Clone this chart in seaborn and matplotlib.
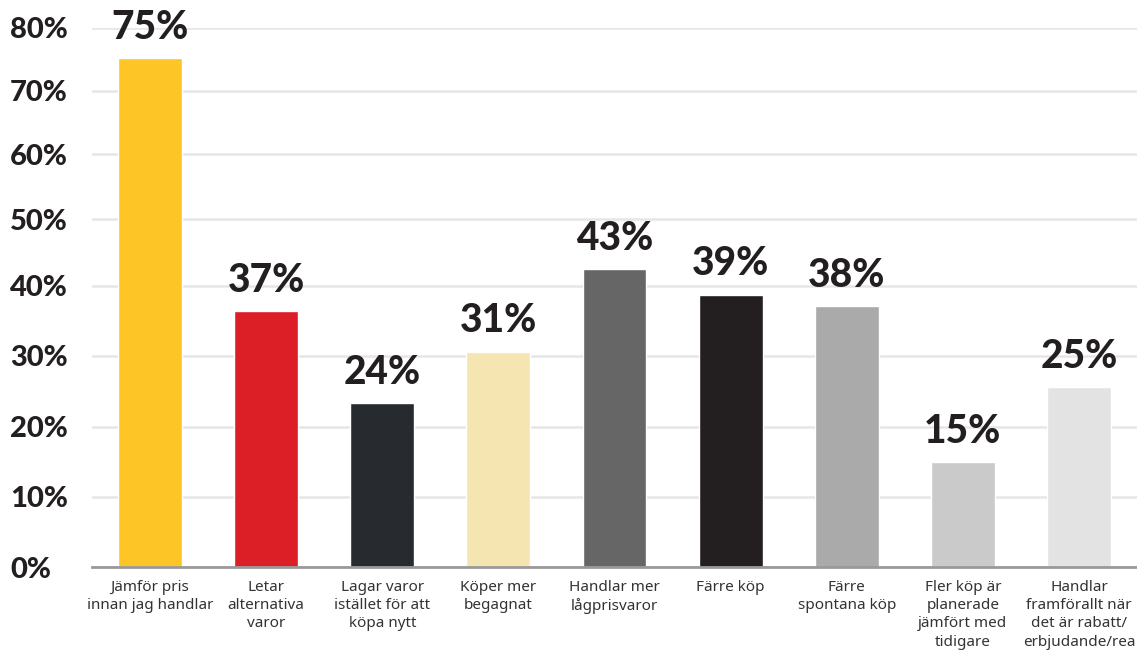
import matplotlib
matplotlib.use("Agg")
import matplotlib.pyplot as plt
import seaborn as sns
import pandas as pd
import numpy as np

categories = [
    "Jämför pris\ninnan jag handlar",
    "Letar\nalternativa\nvaror",
    "Lagar varor\nistället för att\nköpa nytt",
    "Köper mer\nbegagnat",
    "Handlar mer\nlågprisvaror",
    "Färre köp",
    "Färre\nspontana köp",
    "Fler köp är\nplanerade\njämfört med\ntidigare",
    "Handlar\nframförallt när\ndet är rabatt/\nerbjudande/rea",
]
values = [75.2, 36.4, 23.3, 30.6, 42.5, 38.7, 37.1, 14.9, 25.6]
value_labels = ["75%", "37%", "24%", "31%", "43%", "39%", "38%", "15%", "25%"]
colors = ["#FDC626", "#DC1E26", "#272B2F", "#F5E6B1", "#666666",
          "#231F20", "#AAAAAA", "#CACACA", "#E3E3E3"]
yticks = [0, 10, 20, 30, 40, 50, 60, 70, 80]
ytick_labels = ["0%", "10%", "20%", "30%", "40%", "50%", "60%", "70%", "80%"]

# scale calibration of the original chart's value axis (grid spacing is uneven)
axis_stops = np.array([0.0, 70.6, 140.6, 211.3, 281.6, 348.0, 413.0, 476.6, 539.3])
tick_arr = np.array(yticks, dtype=float)


def fwd(v):
    v = np.asarray(v, dtype=float)
    out = np.interp(v, tick_arr, axis_stops)
    lo = v < tick_arr[0]
    hi = v > tick_arr[-1]
    s0 = (axis_stops[1] - axis_stops[0]) / (tick_arr[1] - tick_arr[0])
    s1 = (axis_stops[-1] - axis_stops[-2]) / (tick_arr[-1] - tick_arr[-2])
    out = np.where(lo, axis_stops[0] + (v - tick_arr[0]) * s0, out)
    out = np.where(hi, axis_stops[-1] + (v - tick_arr[-1]) * s1, out)
    return out


def inv(p):
    p = np.asarray(p, dtype=float)
    out = np.interp(p, axis_stops, tick_arr)
    lo = p < axis_stops[0]
    hi = p > axis_stops[-1]
    s0 = (tick_arr[1] - tick_arr[0]) / (axis_stops[1] - axis_stops[0])
    s1 = (tick_arr[-1] - tick_arr[-2]) / (axis_stops[-1] - axis_stops[-2])
    out = np.where(lo, tick_arr[0] + (p - axis_stops[0]) * s0, out)
    out = np.where(hi, tick_arr[-1] + (p - axis_stops[-1]) * s1, out)
    return out


sns.set_style("white")
plt.rcParams["font.family"] = ["Noto Sans", "DejaVu Sans"]

W, H = 1137, 653
fig = plt.figure(figsize=(W / 100, H / 100), dpi=100)
left, right, bottom, top = 92, 1137, 567.3, 28
ax = fig.add_axes([left / W, 1 - bottom / H, (right - left) / W, (bottom - top) / H])

df = pd.DataFrame({"cat": categories, "val": values})
sns.barplot(data=df, x="cat", y="val", hue="cat", palette=colors,
            legend=False, width=0.55, saturation=1, ax=ax, zorder=3)

ax.set_yscale("function", functions=(fwd, inv))
ax.set_xlim(-0.5, len(categories) - 0.5)
ax.set_ylim(0, 80)
ax.set_xlabel("")
ax.set_ylabel("")

for s in ["top", "right", "left"]:
    ax.spines[s].set_visible(False)
ax.spines["bottom"].set_color("#999999")
ax.spines["bottom"].set_linewidth(2)
ax.spines["bottom"].set_zorder(4)

ax.set_yticks(yticks)
ax.set_yticklabels(ytick_labels)
ax.yaxis.set_minor_locator(matplotlib.ticker.NullLocator())
ax.yaxis.grid(True, which="major", color="#E6E6E6", linewidth=1.8, zorder=0)
ax.set_axisbelow(True)
ax.tick_params(axis="y", which="both", length=0, pad=(left - 10) * 0.72)
for lbl in ax.get_yticklabels():
    lbl.set_horizontalalignment("left")
    lbl.set_fontfamily(["Lato", "DejaVu Sans"])
    lbl.set_fontweight("black")
    lbl.set_fontsize(21)
    lbl.set_color("#231F20")
    lbl.set_verticalalignment("center_baseline")

ax.tick_params(axis="x", length=0, pad=9)
ax.set_xticks(range(len(categories)))
ax.set_xticklabels(categories, fontsize=11, color="#333333", linespacing=1.3,
                   va="top", ha="center")

for i, (v, t) in enumerate(zip(values, value_labels)):
    ax.annotate(t, xy=(i, v), xytext=(0, 14), textcoords="offset points",
                ha="center", va="baseline", fontsize=28, fontweight="black",
                fontfamily=["Lato", "DejaVu Sans"], color="#231F20",
                annotation_clip=False, zorder=5)

fig.savefig("out.png", dpi=100)
